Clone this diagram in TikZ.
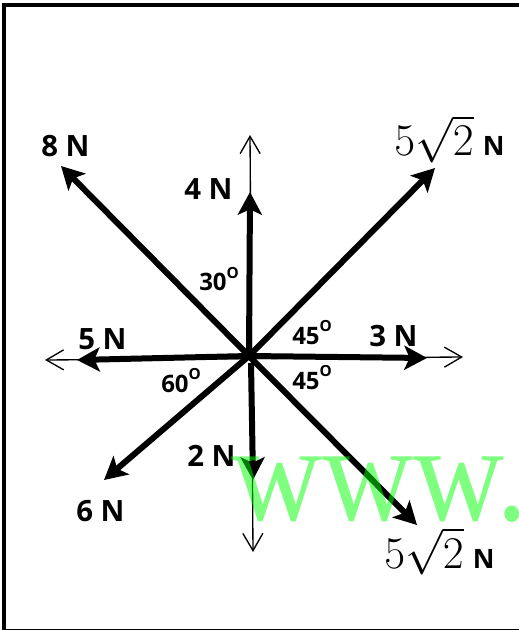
\documentclass[tikz,border=0pt]{standalone}
\usepackage{fix-cm}
\usepackage{fontspec}
\setmainfont{Open Sans}
\newfontfamily\wmfont{Liberation Serif}
\usetikzlibrary{arrows.meta}

\newcommand{\degr}[1]{#1\raisebox{9.5pt}{\fontsize{11.5}{12}\selectfont O}}
\newcommand{\rtwo}{{\fontsize{34}{36}\selectfont$5\sqrt{2}$}\hspace{7pt}{\fontsize{20}{22}\selectfont\bfseries N}}

\begin{document}
\begin{tikzpicture}[x=0.75pt, y=-0.75pt,
    force/.style={line width=4.5pt, -{Stealth[length=17pt, width=18pt, inset=4pt]}},
    axis/.style={line width=1pt, {Straight Barb[length=13pt, width=15pt]}-{Straight Barb[length=13pt, width=15pt]}},
    lbl/.style={anchor=base west, inner sep=0pt, font=\fontsize{22}{24}\selectfont\bfseries},
    ang/.style={anchor=base west, inner sep=0pt, font=\fontsize{18}{20}\selectfont\bfseries}]
    \useasboundingbox (0,0) rectangle (518,630);

    % Rahmen
    \draw[line width=3pt] (540,5) -- (4,5) -- (4,631) -- (540,631);

    % Achsen
    \coordinate (O) at (249,356);
    \coordinate (Xl) at (45,360);
    \coordinate (Xr) at (463,357);
    \coordinate (Yt) at (250,135);
    \coordinate (Yb) at (253,552);
    \draw[axis] (Xl) -- (Xr);
    \draw[axis] (Yb) -- (Yt);

    % Kraefte
    \coordinate (F8) at (61,166);
    \coordinate (F4) at (250,192);
    \coordinate (Fa) at (435,168);
    \coordinate (F5) at (77,360);
    \coordinate (F3) at (427,358);
    \coordinate (F6) at (104,480);
    \coordinate (F2) at (253,480);
    \coordinate (F2s) at (251,363);
    \coordinate (Fb) at (417,525);
    \draw[force] (O) -- (F8);
    \draw[force] (O) -- (F4);
    \draw[force] (O) -- (Fa);
    \draw[force] (O) -- (F5);
    \draw[force] (O) -- (F3);
    \draw[force] (O) -- (F6);
    \draw[force] (F2s) -- (F2);
    \draw[force] (O) -- (Fb);

    % Beschriftung
    \node[lbl] (l8) at (41,157) {8 N};
    \node[lbl] (l4) at (184,200) {4 N};
    \node[lbl] (l5) at (78,349) {5 N};
    \node[lbl] (l3) at (369,346) {3 N};
    \node[lbl] (l2) at (187,466) {2 N};
    \node[lbl] (l6) at (76,521) {6 N};
    \node[anchor=base west, inner sep=0pt] (la) at (394,156) {\rtwo};
    \node[anchor=base west, inner sep=0pt] (lb) at (384,568) {\rtwo};

    % Winkel
    \node[ang] (w30) at (199,291) {\degr{30}};
    \node[ang] (w45a) at (292,344) {\degr{45}};
    \node[ang] (w45b) at (292,389) {\degr{45}};
    \node[ang] (w60) at (161,392) {\degr{60}};

    % Wasserzeichen
    \node[anchor=base west, inner sep=0pt, text=green, opacity=0.5,
        font=\wmfont\fontsize{104}{108}\selectfont] (wm) at (231,520) {\scalebox{0.91}[1]{www.}};
\end{tikzpicture}
\end{document}
